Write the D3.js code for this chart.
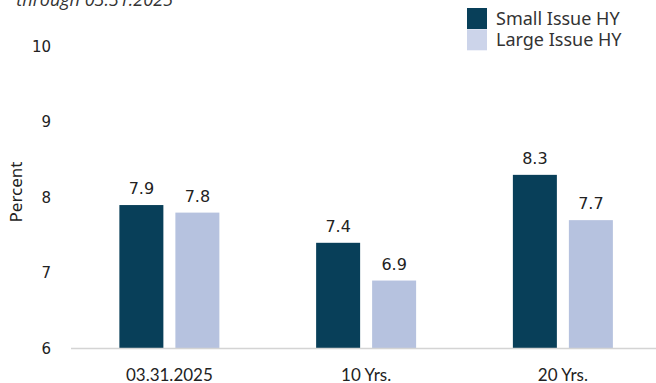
<!DOCTYPE html>
<html>
<head>
<meta charset="utf-8">
<script src="https://cdn.jsdelivr.net/npm/d3@7"></script>
<style>
  html, body { margin: 0; padding: 0; background: #fff; }
  svg { display: block; }
</style>
</head>
<body>
<svg id="chart" width="656" height="383"></svg>
<script>
// Yield data (percent), by period
const categories = ["03.31.2025", "10 Yrs.", "20 Yrs."];
const seriesNames = ["Small Issue HY", "Large Issue HY"];
const smallIssue = [7.9, 7.4, 8.3];
const largeIssue = [7.8, 6.9, 7.7];
const yTicks = [6, 7, 8, 9, 10];

const colors = ["#083f59", "#b6c2df"];
const legendColors = ["#083f59", "#ccd4ea"];

const svg = d3.select("#chart");
const W = 656, H = 383;

const y = d3.scaleLinear().domain([6, 10]).range([348.5, 46.5]);
const x0 = d3.scaleBand().domain(categories).range([71, 661.25]).padding(0);
const groupW = 100;
const x1 = d3.scaleBand().domain(seriesNames).range([0, groupW]).paddingInner(12 / 56).paddingOuter(0);

const rows = categories.map((c, i) => ({ cat: c, vals: [smallIssue[i], largeIssue[i]] }));

// Subtitle, partially above the visible area
svg.append("text")
  .attr("x", 173).attr("y", 6)
  .attr("text-anchor", "end")
  .style("font-family", "'Open Sans', sans-serif")
  .style("font-style", "italic")
  .style("font-size", "18px")
  .attr("fill", "#333")
  .text("through 03.31.2025");

// Y axis tick labels
const yAxis = d3.axisLeft(y).tickValues(yTicks).tickSize(0).tickPadding(0).tickFormat(d3.format("d"));
const gy = svg.append("g").attr("transform", "translate(51,0)").call(yAxis);
gy.select(".domain").remove();
gy.selectAll("text")
  .style("font-family", "'DejaVu Sans', sans-serif")
  .style("font-size", "15px")
  .attr("fill", "#222");

// Y axis title
svg.append("text")
  .attr("transform", "translate(22,192) rotate(-90)")
  .attr("text-anchor", "middle")
  .style("font-family", "'Noto Sans', sans-serif")
  .style("font-size", "17px")
  .attr("fill", "#222")
  .text("Percent");

// Bars
const groups = svg.append("g").selectAll("g").data(rows).join("g")
  .attr("transform", d => `translate(${x0(d.cat) + (x0.bandwidth() - groupW) / 2},0)`);

groups.selectAll("rect")
  .data(d => d.vals.map((v, k) => ({ name: seriesNames[k], v, k })))
  .join("rect")
  .attr("x", d => x1(d.name))
  .attr("width", x1.bandwidth())
  .attr("y", d => y(d.v))
  .attr("height", d => y(6) - y(d.v))
  .attr("fill", d => colors[d.k]);

groups.selectAll("text.val")
  .data(d => d.vals.map((v, k) => ({ name: seriesNames[k], v, k })))
  .join("text")
  .attr("class", "val")
  .attr("x", d => x1(d.name) + x1.bandwidth() / 2)
  .attr("y", d => y(d.v) - 11)
  .attr("text-anchor", "middle")
  .style("font-family", "'DejaVu Sans', sans-serif")
  .style("font-size", "16px")
  .attr("fill", "#222")
  .text(d => d3.format(".1f")(d.v));

// Baseline
svg.append("line")
  .attr("x1", 71).attr("x2", W)
  .attr("y1", y(6)).attr("y2", y(6))
  .attr("stroke", "#d4d4d4").attr("stroke-width", 1.5);

// X axis category labels
const xAxis = d3.axisBottom(x0).tickSize(0).tickPadding(0);
const gx = svg.append("g").attr("transform", `translate(0,${y(6)})`).call(xAxis);
gx.select(".domain").remove();
gx.selectAll("text")
  .attr("dy", null)
  .attr("y", 32)
  .style("font-family", "'Lato', sans-serif")
  .style("font-size", "17px")
  .attr("fill", "#222");

// Legend
const legend = svg.append("g").attr("transform", "translate(467,8)");
seriesNames.forEach((name, i) => {
  legend.append("rect")
    .attr("x", 0).attr("y", i * 21.3)
    .attr("width", 20).attr("height", 21)
    .attr("fill", legendColors[i]);
  legend.append("text")
    .attr("x", 29).attr("y", i * 21.3 + 17)
    .style("font-family", "'Noto Sans', sans-serif")
    .style("font-size", "18px")
    .attr("fill", "#333")
    .text(name);
});
</script>
</body>
</html>
